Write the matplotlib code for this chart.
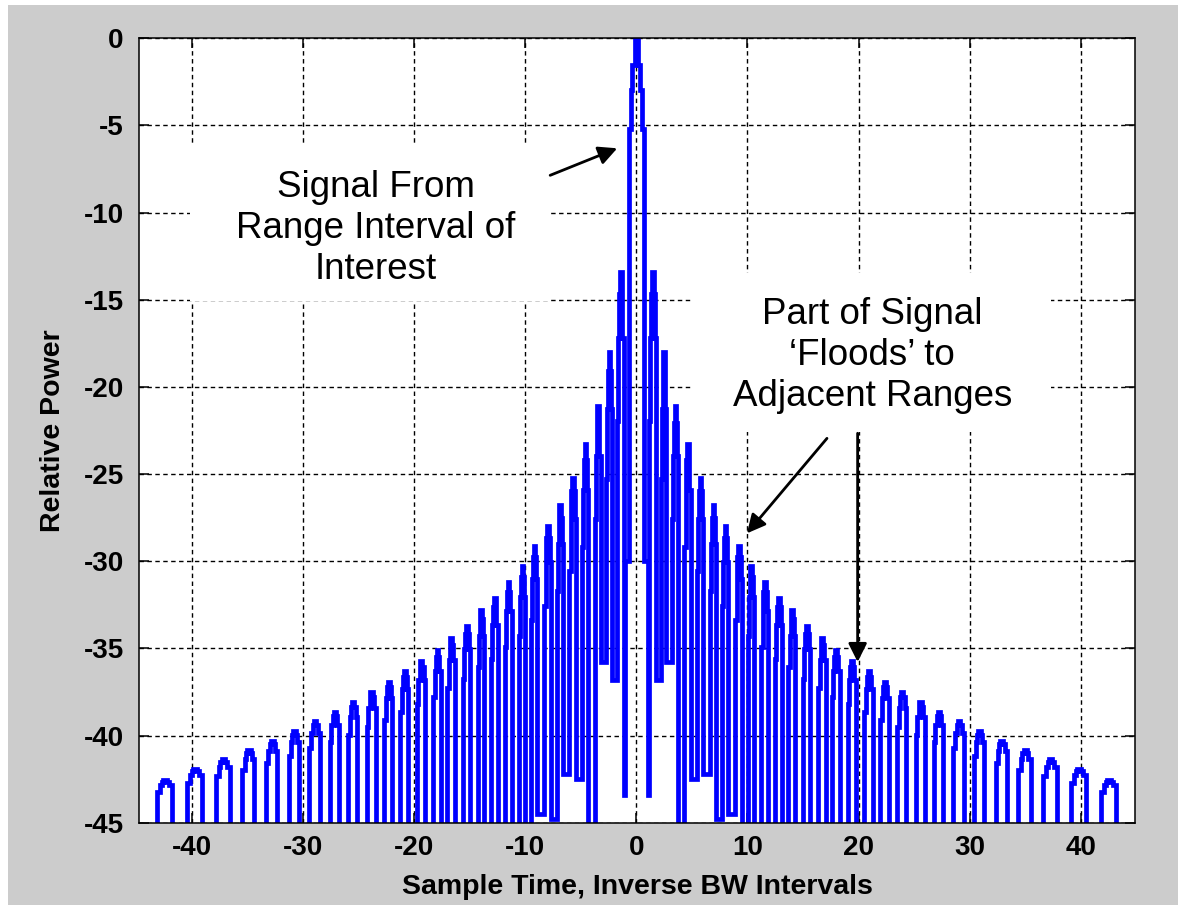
import matplotlib
matplotlib.use('Agg')
import matplotlib.pyplot as plt
from matplotlib.patches import Rectangle

plt.rcParams['font.family'] = ['Liberation Sans', 'DejaVu Sans']
plt.rcParams['axes.unicode_minus'] = False

# Main lobe outline, right half (x, dB); the left half is the mirror image
main_x = [0.0, 0.15, 0.15, 0.36, 0.36, 0.53, 0.53, 0.70, 0.70, 1.00, 1.00]
main_db = [0.0, 0.0, -1.55, -1.55, -2.95, -2.95, -5.2, -5.2, -30.0, -30.0, -43.4]

# Range sidelobes, right side (same on the left): centre and peak level
lobe_x = [1.45, 2.45, 3.5, 4.6, 5.75, 6.9, 8.0, 9.2, 10.3, 11.55, 12.8, 14.0,
          15.3, 16.7, 17.95, 19.4, 20.9, 22.35, 23.9, 25.55, 27.2, 29.0,
          30.85, 32.85, 34.95, 37.25, 39.8, 42.5]
lobe_db = [-13.4, -18.0, -21.1, -23.3, -25.2, -26.8, -28.0, -29.1, -30.3,
           -31.2, -32.1, -32.8, -33.7, -34.4, -35.1, -35.7, -36.3, -36.9,
           -37.5, -38.1, -38.65, -39.15, -39.75, -40.3, -40.85, -41.35,
           -41.9, -42.55]
# level reached between lobe k-1 and lobe k (k=0: between main lobe and first sidelobe)
dip_db = [-43.4, -36.8, -35.8, -50, -42.5, -42.2, -44.8, -44.5] + [-50] * 21

x_ticks = [-40, -30, -20, -10, 0, 10, 20, 30, 40]
y_ticks = [0, -5, -10, -15, -20, -25, -30, -35, -40, -45]

# stair shape of one sidelobe: fraction of half width, drop as share of height above floor
STEP_FRAC = [1.0, 0.63, 0.35, 0.15]
STEP_DROP = [0.27, 0.12, 0.04, 0.0]
FLOOR = -45


def lobe_outline(c, peak, hw, dip_left, dip_right):
    h = peak - FLOOR
    xs, ys = [c - hw], [dip_left]
    for f, d in zip(STEP_FRAC, STEP_DROP):
        xs += [c - f * hw, c - f * hw]
        ys += [ys[-1], peak - d * h]
    for f, d in zip(STEP_FRAC[::-1], STEP_DROP[::-1]):
        xs += [c + f * hw, c + f * hw]
        ys += [ys[-1], peak - d * h]
    xs.append(c + hw)
    ys.append(dip_right)
    return xs[:1] + xs[2:], ys[:1] + ys[2:]


n = len(lobe_x)
widths = []
for k in range(n):
    left = lobe_x[k - 1] if k > 0 else 0.0
    right = lobe_x[k + 1] if k < n - 1 else lobe_x[k] + (lobe_x[k] - lobe_x[k - 1])
    widths.append(0.25 * (right - left) / 2)

curve_x, curve_y = [], []
for k in range(n - 1, -1, -1):
    xs, ys = lobe_outline(-lobe_x[k], lobe_db[k], widths[k], dip_db[k + 1], dip_db[k])
    curve_x += xs
    curve_y += ys
curve_x += [-v for v in main_x[::-1]] + main_x[1:]
curve_y += main_db[::-1] + main_db[1:]
for k in range(n):
    xs, ys = lobe_outline(lobe_x[k], lobe_db[k], widths[k], dip_db[k], dip_db[k + 1])
    curve_x += xs
    curve_y += ys

fig = plt.figure(figsize=(11.78, 9.05), dpi=100)
fig.patch.set_facecolor('white')
fig.patches.append(Rectangle((8 / 1178, 0), 1, 1 - 5 / 905, transform=fig.transFigure,
                             facecolor='#cccccc', edgecolor='none', zorder=-10))

ax = fig.add_axes([139 / 1178, 82.3 / 905, 996 / 1178, 784.4 / 905])
ax.set_facecolor('white')
ax.plot(curve_x, curve_y, color='#0000ff', lw=3.4, solid_joinstyle='miter', zorder=2)

ax.set_xlim(-44.8, 44.9)
ax.set_ylim(-45, 0)
ax.set_xticks(x_ticks)
ax.set_yticks(y_ticks)
ax.set_axisbelow(True)
ax.grid(True, color='black', lw=1.0, linestyle=(0, (3.2, 2.5)))
ax.tick_params(direction='in', length=7, width=1.1, top=True, right=True,
               labelsize=20, pad=9)
for lab in ax.get_xticklabels() + ax.get_yticklabels():
    lab.set_fontweight('bold')
ax.tick_params(axis='y', pad=11)
for sp in ax.spines.values():
    sp.set_linewidth(1.1)

ax.set_xlabel('Sample Time, Inverse BW Intervals', fontsize=20.5, fontweight='bold', labelpad=9)
ax.set_ylabel('Relative Power', fontsize=20.5, fontweight='bold', labelpad=12.5)

# white boxes behind the annotation texts hide the grid
ax.add_patch(Rectangle((-40.2, -15.09), 32.4, 8.95, facecolor='white', edgecolor='none', zorder=1))
ax.add_patch(Rectangle((5.12, -22.6), 32.2, 9.12, facecolor='white', edgecolor='none', zorder=1))

ax.text(-23.5, -10.9, 'Signal From\nRange Interval of\nInterest', fontsize=26.5,
        ha='center', va='center', linespacing=1.22, zorder=3)
ax.text(21.24, -18.19, 'Part of Signal\n\u2018Floods\u2019 to\nAdjacent Ranges', fontsize=26.5,
        ha='center', va='center', linespacing=1.22, zorder=3)

arrow = dict(arrowstyle='-|>', color='black', lw=2.0, mutation_scale=28, shrinkA=0, shrinkB=0)
ax.annotate('', xy=(-1.73, -6.31), xytext=(-7.77, -7.86), arrowprops=arrow, zorder=4)
ax.annotate('', xy=(9.95, -28.4), xytext=(17.16, -22.95), arrowprops=arrow, zorder=4)
ax.annotate('', xy=(19.92, -35.78), xytext=(19.92, -22.66), arrowprops=arrow, zorder=4)

fig.savefig('out.png', dpi=100, facecolor=fig.get_facecolor())
